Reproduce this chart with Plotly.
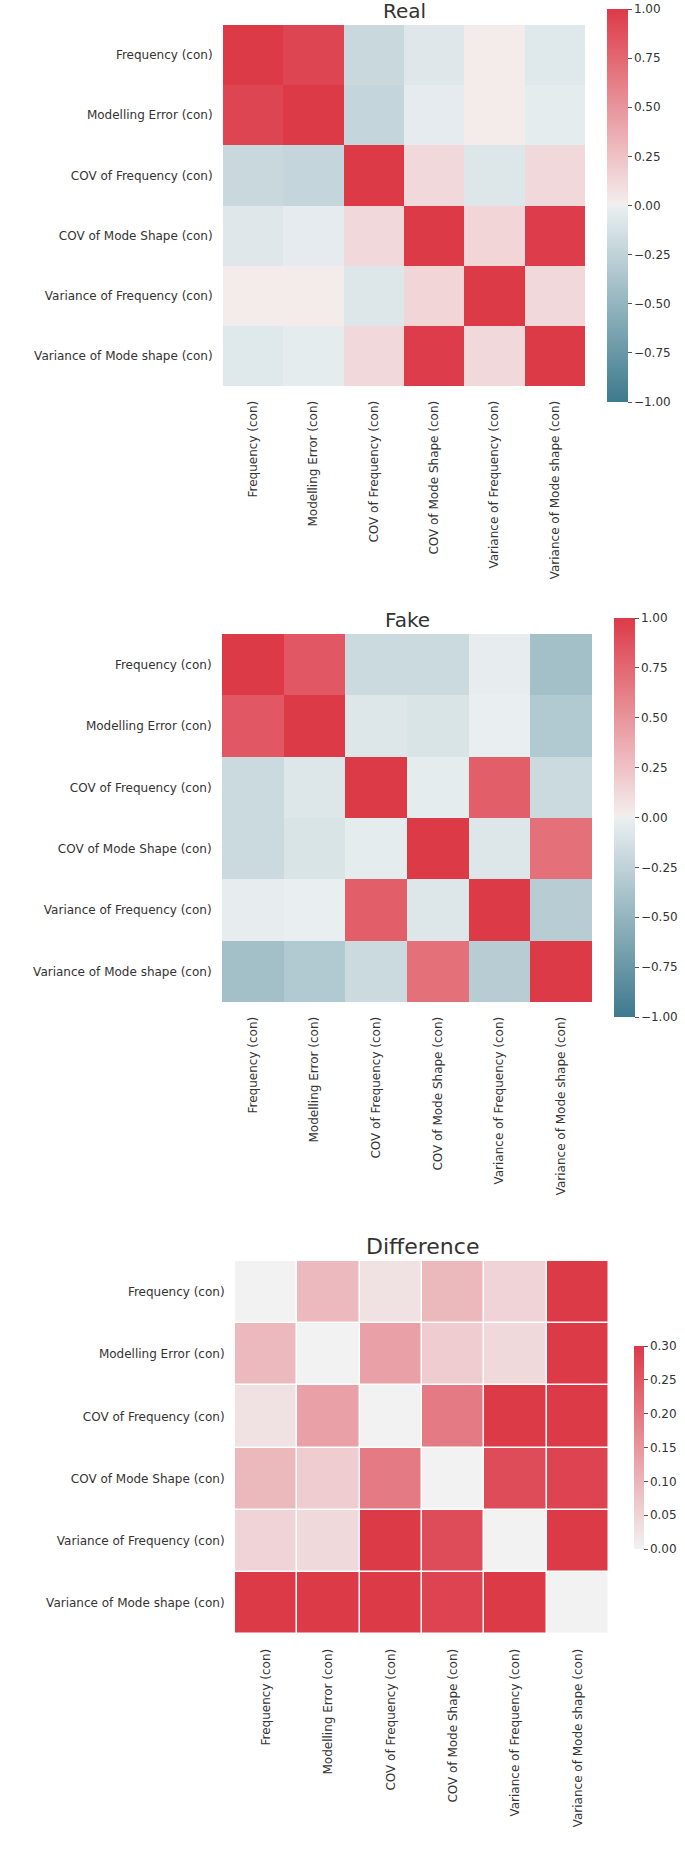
import plotly.graph_objects as go

labels = ["Frequency (con)", "Modelling Error (con)", "COV of Frequency (con)",
          "COV of Mode Shape (con)", "Variance of Frequency (con)", "Variance of Mode shape (con)"]

real = [
    [1.00, 0.94, -0.20, -0.07, 0.02, -0.065],
    [0.94, 1.00, -0.22, -0.035, 0.02, -0.03],
    [-0.20, -0.22, 1.00, 0.12, -0.08, 0.12],
    [-0.07, -0.035, 0.12, 1.00, 0.14, 0.99],
    [0.02, 0.02, -0.08, 0.14, 1.00, 0.12],
    [-0.065, -0.03, 0.12, 0.99, 0.12, 1.00],
]

fake = [
    [1.00, 0.84, -0.18, -0.18, -0.02, -0.41],
    [0.84, 1.00, -0.08, -0.10, -0.01, -0.33],
    [-0.18, -0.08, 1.00, -0.03, 0.80, -0.18],
    [-0.18, -0.10, -0.03, 1.00, -0.08, 0.70],
    [-0.02, -0.01, 0.80, -0.08, 1.00, -0.30],
    [-0.41, -0.33, -0.18, 0.70, -0.30, 1.00],
]

diff = [
    [0.00, 0.092, 0.026, 0.095, 0.05, 0.30],
    [0.092, 0.00, 0.134, 0.062, 0.04, 0.30],
    [0.026, 0.134, 0.00, 0.195, 0.30, 0.30],
    [0.095, 0.062, 0.195, 0.00, 0.27, 0.285],
    [0.05, 0.04, 0.30, 0.27, 0.00, 0.30],
    [0.30, 0.30, 0.30, 0.285, 0.30, 0.00],
]

corr_ticks = [-1.0, -0.75, -0.5, -0.25, 0.0, 0.25, 0.5, 0.75, 1.0]
diff_ticks = [0.0, 0.05, 0.10, 0.15, 0.20, 0.25, 0.30]

W, H = 685, 1852
TXT = "#333333"
FONT = "DejaVu Sans"

div_scale = [
    [0.0, "rgb(61,122,141)"],
    [0.498, "rgb(234,239,241)"],
    [0.502, "rgb(244,238,238)"],
    [1.0, "rgb(221,58,72)"],
]
diff_scale = [[0.0, "rgb(242,242,242)"], [1.0, "rgb(221,58,72)"]]

def px_x(v):
    return v / W

def px_y(v):
    return 1 - v / H

panels = [
    dict(z=real, title="Real", x0=223, x1=585, y0=25, y1=386, scale=div_scale,
         zmin=-1, zmax=1, ticks=corr_ticks, cbx=607, cby0=9, cby1=402, cbt=21,
         gap=0, ty=11, tsize=20),
    dict(z=fake, title="Fake", x0=222, x1=592, y0=634, y1=1002, scale=div_scale,
         zmin=-1, zmax=1, ticks=corr_ticks, cbx=614, cby0=618, cby1=1017, cbt=21,
         gap=0, ty=620, tsize=20),
    dict(z=diff, title="Difference", x0=235, x1=609, y0=1261, y1=1634, scale=diff_scale,
         zmin=0, zmax=0.3, ticks=diff_ticks, cbx=634, cby0=1346, cby1=1549, cbt=10,
         gap=1.5, ty=1246, tsize=22),
]

fig = go.Figure()
annotations = []
for i, p in enumerate(panels):
    n = "" if i == 0 else str(i + 1)
    fig.add_trace(go.Heatmap(
        z=p["z"], x=labels, y=labels,
        colorscale=p["scale"], zmin=p["zmin"], zmax=p["zmax"],
        xgap=p["gap"], ygap=p["gap"],
        xaxis="x" + n, yaxis="y" + n,
        colorbar=dict(
            x=px_x(p["cbx"]), xanchor="left", xpad=0, ypad=0,
            y=px_y((p["cby0"] + p["cby1"]) / 2), yanchor="middle",
            len=p["cby1"] - p["cby0"], lenmode="pixels",
            thickness=p["cbt"], thicknessmode="pixels",
            outlinewidth=0, ticks="outside", ticklen=4, tickwidth=1.2,
            tickcolor="#555555", tickvals=p["ticks"], tickformat=".2f",
            tickfont=dict(family=FONT, size=12, color=TXT),
        ),
    ))
    common = dict(showgrid=False, zeroline=False, showline=False,
                  tickfont=dict(family=FONT, size=12, color=TXT),
                  ticks="outside", tickcolor="rgba(0,0,0,0)")
    fig.update_layout(**{
        "xaxis" + n: dict(domain=[px_x(p["x0"]), px_x(p["x1"])], anchor="y" + n,
                          tickangle=-90, ticklen=9, **common),
        "yaxis" + n: dict(domain=[px_y(p["y1"]), px_y(p["y0"])], anchor="x" + n,
                          autorange="reversed", ticklen=7, **common),
    })
    annotations.append(dict(
        text=p["title"], x=px_x((p["x0"] + p["x1"]) / 2), y=px_y(p["ty"]),
        xref="paper", yref="paper", xanchor="center", yanchor="middle",
        showarrow=False, font=dict(family=FONT, size=p["tsize"], color=TXT),
    ))

fig.update_layout(
    width=W, height=H,
    margin=dict(l=0, r=0, t=0, b=0),
    paper_bgcolor="white", plot_bgcolor="white",
    annotations=annotations,
    showlegend=False,
)

fig.write_html("out.html", config={"displayModeBar": False},
               post_script="document.body.style.margin='0px';")
